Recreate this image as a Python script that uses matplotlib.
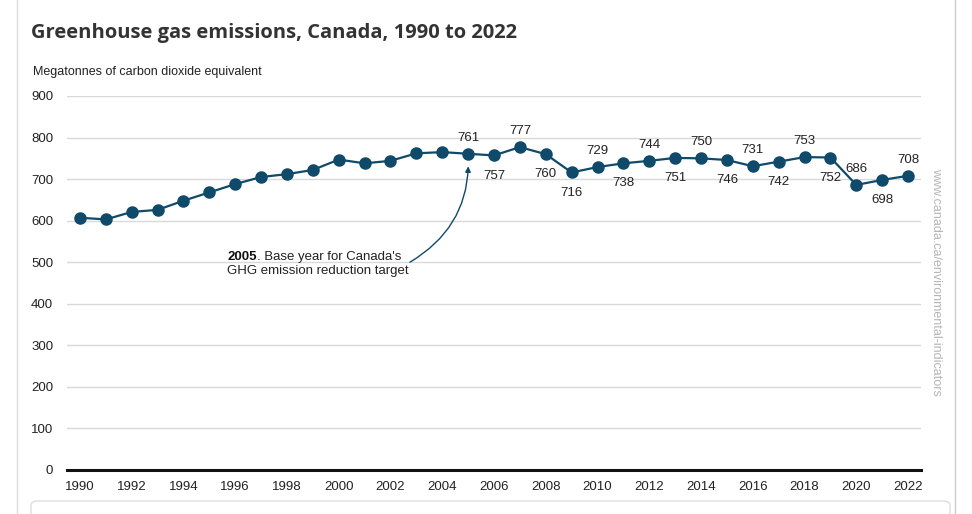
import matplotlib
matplotlib.use('Agg')
import matplotlib.pyplot as plt
from matplotlib.patches import FancyBboxPatch
from matplotlib.lines import Line2D

# Dados
anos = list(range(1990, 2023))
emissoes = [607, 603, 621, 626, 648, 668, 688, 705, 712, 722, 747, 738, 744, 762, 765,
            761, 757, 777, 760, 716, 729, 738, 744, 751, 750, 746, 731, 742, 753, 752,
            686, 698, 708]
anos_ticks = list(range(1990, 2023, 2))
y_ticks = list(range(0, 1000, 100))

plt.rcParams['font.family'] = ['Liberation Sans', 'DejaVu Sans']

cor_linha = '#0f4a6a'
fig = plt.figure(figsize=(9.72, 5.14), dpi=100)
ax = fig.add_axes([67/972, 1 - 470/514, 854/972, 374/514])

ax.plot(anos, emissoes, color=cor_linha, linewidth=1.6, marker='o', markersize=8,
        markerfacecolor=cor_linha, markeredgecolor=cor_linha, zorder=3)

ax.set_xlim(1989.5, 2022.5)
ax.set_ylim(0, 900)
ax.set_yticks(y_ticks)
ax.set_xticks(anos_ticks)
ax.tick_params(length=0, labelsize=9.5, colors='#222222')
ax.tick_params(axis='y', pad=10)
ax.tick_params(axis='x', pad=8)
for s in ax.spines.values():
    s.set_visible(False)
ax.grid(axis='y', color='#d9d9d9', linewidth=1)
ax.set_axisbelow(True)
ax.axhline(0, color='#111111', linewidth=2.2, zorder=2, clip_on=False)

# Rotulos de 2005 em diante (acima ou abaixo do ponto)
acima = {2005, 2007, 2010, 2012, 2014, 2016, 2018, 2020, 2022}
for a, v in zip(anos, emissoes):
    if a < 2005:
        continue
    ax.annotate(str(v), (a, v), xytext=(0, 11.5 if a in acima else -14.5),
                textcoords='offset points', ha='center', va='center',
                fontsize=9.5, color='#222222')

# Anotacao do ano-base
ax.annotate('', xy=(2005, 761), xytext=(2002.75, 500),
            arrowprops=dict(arrowstyle='-|>', color=cor_linha, linewidth=1,
                            mutation_scale=8, shrinkA=0, shrinkB=9,
                            connectionstyle='arc3,rad=0.3'))
t1 = fig.text(227/972, 1 - 257/514, '2005', fontsize=9.5, fontweight='bold',
              color='#111111', va='center', ha='left')
fig.canvas.draw()
bb = t1.get_window_extent()
fig.text(bb.x1 / 972, 1 - 257/514, ". Base year for Canada's", fontsize=9.5,
         color='#222222', va='center', ha='left')
fig.text(227/972, 1 - 271/514, 'GHG emission reduction target', fontsize=9.5,
         color='#222222', va='center', ha='left')

# Titulos
fig.text(31/972, 1 - 33/514, 'Greenhouse gas emissions, Canada, 1990 to 2022',
         fontsize=14.5, fontweight='bold', family='Open Sans', color='#333333',
         va='center', ha='left')
fig.text(33/972, 1 - 72/514, 'Megatonnes of carbon dioxide equivalent',
         fontsize=9, color='#222222', va='center', ha='left')

# Marca d'agua
fig.text(936/972, 1 - 282/514, 'www.canada.ca/environmental-indicators',
         rotation=-90, fontsize=9, color='#b5b5b5', va='center', ha='center')

# Moldura da pagina
fig.add_artist(Line2D([17/972, 17/972], [0, 1], color='#dddddd', linewidth=1))
fig.add_artist(Line2D([955/972, 955/972], [0, 1], color='#cccccc', linewidth=1))
fig.add_artist(FancyBboxPatch((31/972, -0.05), 919/972, 0.05 + 1 - 501/514,
                              boxstyle='round,pad=0,rounding_size=0.008',
                              facecolor='white', edgecolor='#dddddd', linewidth=1))

fig.savefig('out.png', dpi=100)
